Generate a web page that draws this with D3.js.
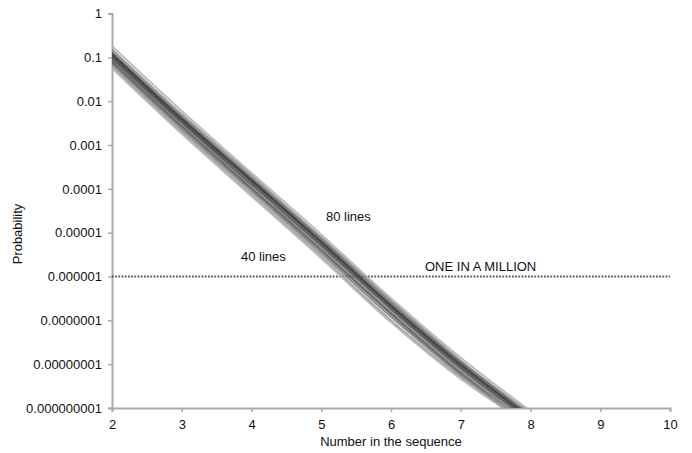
<!DOCTYPE html>
<html>
<head>
<meta charset="utf-8">
<script src="https://cdn.jsdelivr.net/npm/d3@7"></script>
<style>
  body { margin: 0; background: #fff; }
  text { font-family: "Liberation Sans", Arial, sans-serif; fill: #111; }
</style>
</head>
<body>
<div class="graph"></div>
<script>
// values (probability at each position in the sequence)
var positions = [2, 3, 4, 5, 6, 7, 8];

var lines80 = [
  [0.18, 6.0e-3, 2.3e-4, 9.0e-6, 3.2e-7, 1.4e-8, 8.5e-10],
  [0.15, 5.0e-3, 2.0e-4, 7.8e-6, 2.8e-7, 1.2e-8, 7.5e-10],
  [0.13, 4.4e-3, 1.75e-4, 7.0e-6, 2.5e-7, 1.1e-8, 6.8e-10],
  [0.12, 4.0e-3, 1.6e-4, 6.3e-6, 2.2e-7, 1.0e-8, 6.2e-10],
  [0.11, 3.7e-3, 1.5e-4, 5.9e-6, 2.1e-7, 9.3e-9, 5.8e-10],
  [0.10, 3.5e-3, 1.4e-4, 5.6e-6, 2.0e-7, 8.9e-9, 5.6e-10]
];

var lines40 = [
  [0.092, 3.2e-3, 1.25e-4, 5.0e-6, 1.8e-7, 8.0e-9, 5.0e-10],
  [0.085, 2.9e-3, 1.1e-4, 4.4e-6, 1.55e-7, 7.0e-9, 4.4e-10],
  [0.078, 2.6e-3, 1.0e-4, 3.9e-6, 1.4e-7, 6.2e-9, 3.9e-10],
  [0.070, 2.3e-3, 8.8e-5, 3.4e-6, 1.2e-7, 5.6e-9, 3.4e-10],
  [0.062, 2.0e-3, 7.6e-5, 2.9e-6, 1.0e-7, 5.1e-9, 4.6e-10],
  [0.056, 1.8e-3, 6.8e-5, 2.6e-6, 9.0e-8, 4.6e-9, 4.0e-10]
];

var shades = ["#b0b0b0", "#888", "#666", "#444", "#333", "#555",
              "#4a4a4a", "#777", "#555", "#777", "#999", "#b0b0b0"];

var yTicks = [1, 0.1, 0.01, 0.001, 0.0001, 0.00001, 0.000001, 0.0000001, 0.00000001, 0.000000001];
var yTickLabels = ["1", "0.1", "0.01", "0.001", "0.0001", "0.00001", "0.000001",
                   "0.0000001", "0.00000001", "0.000000001"];
var xTicks = [2, 3, 4, 5, 6, 7, 8, 9, 10];
var oneInAMillion = 1e-6;

var width = 692, height = 453;
var margin = { top: 13.5, right: 22, bottom: 45, left: 112 };

var svg = d3.select(".graph").append("svg")
  .attr("width", width)
  .attr("height", height);

var x = d3.scaleLinear().domain([2, 10]).range([margin.left, width - margin.right]);
var y = d3.scaleLog().domain([1e-9, 1]).range([height - margin.bottom, margin.top]);

svg.append("defs").append("clipPath").attr("id", "plot")
  .append("rect")
  .attr("x", margin.left).attr("y", margin.top)
  .attr("width", width - margin.left - margin.right)
  .attr("height", height - margin.top - margin.bottom);

// axes
var yAxis = svg.append("g")
  .attr("transform", "translate(" + margin.left + ",0)")
  .call(d3.axisLeft(y).tickValues(yTicks)
    .tickFormat(function (d, i) { return yTickLabels[i]; })
    .tickSize(4).tickPadding(6));

var xAxis = svg.append("g")
  .attr("transform", "translate(0," + (height - margin.bottom) + ")")
  .call(d3.axisBottom(x).tickValues(xTicks).tickSize(4).tickPadding(8));

[yAxis, xAxis].forEach(function (a) {
  a.select(".domain").attr("stroke", "#aaa").attr("stroke-width", 2);
  a.selectAll(".tick line").attr("stroke", "#aaa").attr("stroke-width", 1.5);
  a.selectAll(".tick text").style("font-size", "13px").attr("fill", "#111")
    .style("font-family", "'Liberation Sans', Arial, sans-serif");
});

// one in a million line
svg.append("line")
  .attr("x1", x(2)).attr("x2", x(10))
  .attr("y1", y(oneInAMillion)).attr("y2", y(oneInAMillion))
  .attr("stroke", "#555")
  .attr("stroke-width", 2)
  .attr("stroke-dasharray", "1.8,1.4");

// the bundle of lines
var line = d3.line()
  .x(function (d, i) { return x(positions[i]); })
  .y(function (d) { return y(d); })
  .curve(d3.curveMonotoneX);

var all = lines80.concat(lines40);

svg.append("g")
  .attr("clip-path", "url(#plot)")
  .selectAll("path")
  .data(all)
  .enter().append("path")
  .attr("d", line)
  .attr("fill", "none")
  .attr("stroke", function (d, i) { return shades[i]; })
  .attr("stroke-width", 2)
  .attr("stroke-opacity", 0.85);

// annotations
svg.append("text").attr("x", 326).attr("y", 221).style("font-size", "13px").text("80 lines");
svg.append("text").attr("x", 241).attr("y", 261).style("font-size", "13px").text("40 lines");
svg.append("text").attr("x", 425).attr("y", 271).style("font-size", "13px").text("ONE IN A MILLION");

// axis titles
svg.append("text")
  .attr("x", x(6)).attr("y", 446)
  .attr("text-anchor", "middle")
  .style("font-size", "13px")
  .text("Number in the sequence");

svg.append("text")
  .attr("transform", "translate(22,234) rotate(-90)")
  .attr("text-anchor", "middle")
  .style("font-size", "13px")
  .text("Probability");
</script>
</body>
</html>
